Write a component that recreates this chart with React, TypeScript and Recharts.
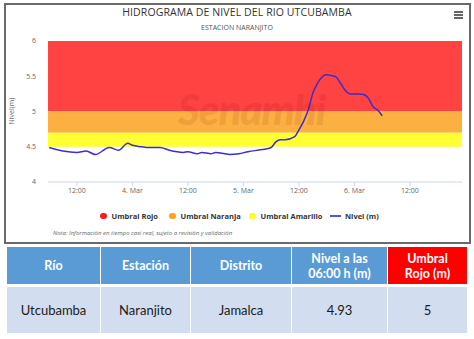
import React from 'react';
import { LineChart, Line, XAxis, YAxis, ReferenceArea } from 'recharts';

// hours since 3 Mar 00:00
const hours = [6, 9, 12, 14, 16, 19, 21, 23, 24, 26, 27, 30, 32, 35, 36, 38, 39, 41, 42, 44, 45, 47, 49, 52, 54, 55, 56, 57, 59, 60, 61, 62, 63, 64, 65, 66, 67, 68, 69, 70, 71, 72, 73, 74, 75, 76, 77, 78];
const levels = [4.49, 4.44, 4.42, 4.44, 4.39, 4.49, 4.45, 4.55, 4.52, 4.5, 4.49, 4.49, 4.45, 4.42, 4.43, 4.4, 4.42, 4.4, 4.42, 4.4, 4.39, 4.4, 4.43, 4.46, 4.49, 4.57, 4.6, 4.6, 4.64, 4.74, 4.86, 5.02, 5.26, 5.4, 5.49, 5.52, 5.51, 5.49, 5.4, 5.3, 5.25, 5.25, 5.25, 5.24, 5.19, 5.07, 5.02, 4.94];

const xTicks = [12, 24, 36, 48, 60, 72, 84];
const xTickLabels = ['12:00', '4. Mar', '12:00', '5. Mar', '12:00', '6. Mar', '12:00'];
const yTicks = [4, 4.5, 5, 5.5, 6];

const thresholds = [
  { name: 'Umbral Rojo', from: 5, to: 6, color: '#ff4343' },
  { name: 'Umbral Naranja', from: 4.7, to: 5, color: '#fdb042' },
  { name: 'Umbral Amarillo', from: 4.5, to: 4.7, color: '#ffff33' },
];

const tableHeaders = ['Río', 'Estación', 'Distrito', 'Nivel a las\n06:00 h (m)', 'Umbral\nRojo (m)'];
const tableRow = ['Utcubamba', 'Naranjito', 'Jamalca', '4.93', '5'];

const data = hours.map((h, i) => ({ h, v: levels[i] }));

const colX = [7, 101, 191, 292, 388, 468];

export default function App() {
  const font = 'Lato, "Open Sans", sans-serif';
  const hcFont = '"Open Sans", "DejaVu Sans", sans-serif';
  const legendItems = [
    { label: 'Umbral Rojo', color: '#ff1a1a', x: 100, type: 'dot' },
    { label: 'Umbral Naranja', color: '#ffa31a', x: 169, type: 'dot' },
    { label: 'Umbral Amarillo', color: '#ffff1a', x: 249, type: 'dot' },
    { label: 'Nivel (m)', color: '#5a52d8', x: 330, type: 'line' },
  ];
  return (
    <div style={{ position: 'absolute', left: 0, top: 0, width: 474, height: 339, background: '#fff', overflow: 'hidden' }}>
      <div style={{ position: 'absolute', left: 4, top: 3, width: 467, height: 241, border: '2px solid #6a6a6a', boxSizing: 'border-box' }} />
      <div style={{ position: 'absolute', left: 0, top: 5, width: 474, textAlign: 'center', fontFamily: hcFont, fontSize: 10.5, color: '#333', letterSpacing: 0.1 }}>
        HIDROGRAMA DE NIVEL DEL RIO UTCUBAMBA
      </div>
      <div style={{ position: 'absolute', left: 0, top: 23, width: 474, textAlign: 'center', fontFamily: hcFont, fontSize: 7, color: '#555' }}>
        ESTACION NARANJITO
      </div>
      <div style={{ position: 'absolute', left: 454, top: 11 }}>
        {[0, 3, 6].map((o) => (
          <div key={o} style={{ position: 'absolute', left: 0, top: o, width: 9, height: 1.5, background: '#666' }} />
        ))}
      </div>
      <div style={{ position: 'absolute', left: 0, top: 0 }}>
        <LineChart width={474} height={204} data={data} margin={{ top: 41, right: 12, left: 0, bottom: 0 }}>
          <XAxis
            dataKey="h"
            type="number"
            domain={[5.75, 95.25]}
            ticks={xTicks}
            tickFormatter={(v: number) => xTickLabels[xTicks.indexOf(v)] ?? ''}
            height={22}
            stroke="#ccd6eb"
            tickSize={4}
            tickMargin={2}
            tick={{ fill: '#666', fontSize: 7, fontFamily: hcFont }}
            allowDataOverflow
          />
          <YAxis
            type="number"
            domain={[4, 6]}
            ticks={yTicks}
            width={48}
            axisLine={false}
            tickLine={false}
            tickMargin={6}
            tick={{ fill: '#666', fontSize: 7, fontFamily: hcFont }}
            tickFormatter={(v: number) => String(v)}
          />
          {thresholds.map((t) => (
            <ReferenceArea key={t.name} y1={t.from} y2={t.to} fill={t.color} fillOpacity={1} stroke="none" ifOverflow="hidden" />
          ))}
          <Line
            dataKey="v"
            type="monotone"
            stroke="#3b2fc9"
            strokeWidth={1.5}
            dot={false}
            isAnimationActive={false}
          />
        </LineChart>
      </div>
      <div style={{ position: 'absolute', left: 178, top: 84, fontFamily: 'Lato, sans-serif', fontStyle: 'italic', fontWeight: 900, fontSize: 42, color: '#6a0000', opacity: 0.09, whiteSpace: 'nowrap', pointerEvents: 'none', letterSpacing: -1 }}>
        Senamhi
      </div>
      <div style={{ position: 'absolute', left: 11, top: 111, transform: 'translate(-50%, -50%) rotate(-90deg)', fontFamily: hcFont, fontSize: 7, color: '#666', whiteSpace: 'nowrap' }}>
        Nivel(m)
      </div>
      {legendItems.map((it) => (
        <div key={it.label} style={{ position: 'absolute', left: it.x, top: 210, height: 12, display: 'flex', alignItems: 'center', fontFamily: hcFont, fontSize: 7.5, fontWeight: 700, color: '#333', whiteSpace: 'nowrap' }}>
          {it.type === 'dot' ? (
            <span style={{ display: 'inline-block', width: 6.5, height: 6.5, borderRadius: '50%', background: it.color, marginRight: 5 }} />
          ) : (
            <span style={{ display: 'inline-block', width: 11, height: 1.5, background: it.color, marginRight: 4 }} />
          )}
          {it.label}
        </div>
      ))}
      <div style={{ position: 'absolute', left: 53, top: 229, fontFamily: hcFont, fontSize: 6, fontStyle: 'italic', color: '#666', whiteSpace: 'nowrap' }}>
        Nota: Información en tiempo casi real, sujeto a revisión y validación
      </div>
      {tableHeaders.map((h, i) => (
        <div key={'h' + i} style={{ position: 'absolute', left: colX[i], top: 247, width: colX[i + 1] - colX[i] - 1, height: 37, background: i === 4 ? '#ff0000' : '#5b9bd5', color: '#fff', fontFamily: font, fontWeight: 700, fontSize: 12.5, display: 'flex', alignItems: 'center', justifyContent: 'center', textAlign: 'center', whiteSpace: 'pre-line', lineHeight: '15px' }}>
          {h}
        </div>
      ))}
      {tableRow.map((c, i) => (
        <div key={'r' + i} style={{ position: 'absolute', left: colX[i], top: 287, width: colX[i + 1] - colX[i] - 1, height: 46, background: '#d2ddef', color: '#1a1a1a', fontFamily: font, fontSize: 13, display: 'flex', alignItems: 'center', justifyContent: 'center' }}>
          {c}
        </div>
      ))}
    </div>
  );
}
